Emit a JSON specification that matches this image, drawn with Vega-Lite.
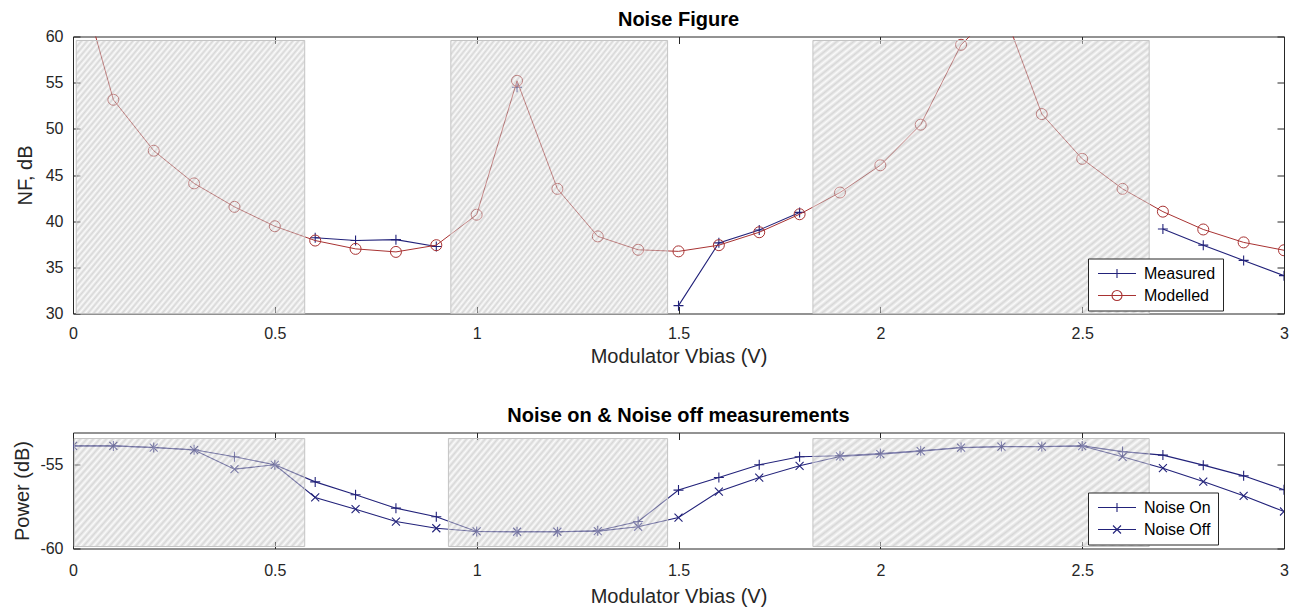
{
  "$schema": "https://vega.github.io/schema/vega-lite/v6.json",
  "background": "white",
  "padding": {"left": 12, "top": 9.5, "right": 10, "bottom": 0},
  "spacing": 37,
  "datasets": {
    "nf": [
      {"x": 0.0, "nf": 68.8, "series": "Modelled", "seg": "m"},
      {"x": 0.1, "nf": 53.15, "series": "Modelled", "seg": "m"},
      {"x": 0.2, "nf": 47.63, "series": "Modelled", "seg": "m"},
      {"x": 0.3, "nf": 44.09, "series": "Modelled", "seg": "m"},
      {"x": 0.4, "nf": 41.55, "series": "Modelled", "seg": "m"},
      {"x": 0.5, "nf": 39.45, "series": "Modelled", "seg": "m"},
      {"x": 0.6, "nf": 37.9, "series": "Modelled", "seg": "m"},
      {"x": 0.7, "nf": 37.0, "series": "Modelled", "seg": "m"},
      {"x": 0.8, "nf": 36.67, "series": "Modelled", "seg": "m"},
      {"x": 0.9, "nf": 37.4, "series": "Modelled", "seg": "m"},
      {"x": 1.0, "nf": 40.7, "series": "Modelled", "seg": "m"},
      {"x": 1.1, "nf": 55.2, "series": "Modelled", "seg": "m"},
      {"x": 1.2, "nf": 43.5, "series": "Modelled", "seg": "m"},
      {"x": 1.3, "nf": 38.35, "series": "Modelled", "seg": "m"},
      {"x": 1.4, "nf": 36.9, "series": "Modelled", "seg": "m"},
      {"x": 1.5, "nf": 36.73, "series": "Modelled", "seg": "m"},
      {"x": 1.6, "nf": 37.4, "series": "Modelled", "seg": "m"},
      {"x": 1.7, "nf": 38.8, "series": "Modelled", "seg": "m"},
      {"x": 1.8, "nf": 40.75, "series": "Modelled", "seg": "m"},
      {"x": 1.9, "nf": 43.1, "series": "Modelled", "seg": "m"},
      {"x": 2.0, "nf": 46.05, "series": "Modelled", "seg": "m"},
      {"x": 2.1, "nf": 50.45, "series": "Modelled", "seg": "m"},
      {"x": 2.2, "nf": 59.1, "series": "Modelled", "seg": "m"},
      {"x": 2.3, "nf": 63.4, "series": "Modelled", "seg": "m"},
      {"x": 2.4, "nf": 51.6, "series": "Modelled", "seg": "m"},
      {"x": 2.5, "nf": 46.75, "series": "Modelled", "seg": "m"},
      {"x": 2.6, "nf": 43.5, "series": "Modelled", "seg": "m"},
      {"x": 2.7, "nf": 41.03, "series": "Modelled", "seg": "m"},
      {"x": 2.8, "nf": 39.1, "series": "Modelled", "seg": "m"},
      {"x": 2.9, "nf": 37.7, "series": "Modelled", "seg": "m"},
      {"x": 3.0, "nf": 36.85, "series": "Modelled", "seg": "m"},
      {"x": 0.6, "nf": 38.2, "series": "Measured", "seg": "a"},
      {"x": 0.7, "nf": 37.9, "series": "Measured", "seg": "a"},
      {"x": 0.8, "nf": 38.0, "series": "Measured", "seg": "a"},
      {"x": 0.9, "nf": 37.25, "series": "Measured", "seg": "a"},
      {"x": 1.1, "nf": 54.5, "series": "Measured", "seg": "b"},
      {"x": 1.5, "nf": 30.85, "series": "Measured", "seg": "c"},
      {"x": 1.6, "nf": 37.65, "series": "Measured", "seg": "c"},
      {"x": 1.7, "nf": 39.05, "series": "Measured", "seg": "c"},
      {"x": 1.8, "nf": 40.95, "series": "Measured", "seg": "c"},
      {"x": 2.7, "nf": 39.15, "series": "Measured", "seg": "d"},
      {"x": 2.8, "nf": 37.4, "series": "Measured", "seg": "d"},
      {"x": 2.9, "nf": 35.75, "series": "Measured", "seg": "d"},
      {"x": 3.0, "nf": 34.1, "series": "Measured", "seg": "d"}
    ],
    "pw": [
      {"x": 0.0, "p": -53.87, "series": "Noise On"},
      {"x": 0.1, "p": -53.87, "series": "Noise On"},
      {"x": 0.2, "p": -53.97, "series": "Noise On"},
      {"x": 0.3, "p": -54.1, "series": "Noise On"},
      {"x": 0.4, "p": -54.52, "series": "Noise On"},
      {"x": 0.5, "p": -55.0, "series": "Noise On"},
      {"x": 0.6, "p": -56.02, "series": "Noise On"},
      {"x": 0.7, "p": -56.79, "series": "Noise On"},
      {"x": 0.8, "p": -57.59, "series": "Noise On"},
      {"x": 0.9, "p": -58.1, "series": "Noise On"},
      {"x": 1.0, "p": -58.98, "series": "Noise On"},
      {"x": 1.1, "p": -59.0, "series": "Noise On"},
      {"x": 1.2, "p": -59.0, "series": "Noise On"},
      {"x": 1.3, "p": -58.94, "series": "Noise On"},
      {"x": 1.4, "p": -58.39, "series": "Noise On"},
      {"x": 1.5, "p": -56.51, "series": "Noise On"},
      {"x": 1.6, "p": -55.76, "series": "Noise On"},
      {"x": 1.7, "p": -55.0, "series": "Noise On"},
      {"x": 1.8, "p": -54.52, "series": "Noise On"},
      {"x": 1.9, "p": -54.46, "series": "Noise On"},
      {"x": 2.0, "p": -54.33, "series": "Noise On"},
      {"x": 2.1, "p": -54.16, "series": "Noise On"},
      {"x": 2.2, "p": -53.97, "series": "Noise On"},
      {"x": 2.3, "p": -53.91, "series": "Noise On"},
      {"x": 2.4, "p": -53.91, "series": "Noise On"},
      {"x": 2.5, "p": -53.87, "series": "Noise On"},
      {"x": 2.6, "p": -54.21, "series": "Noise On"},
      {"x": 2.7, "p": -54.42, "series": "Noise On"},
      {"x": 2.8, "p": -55.02, "series": "Noise On"},
      {"x": 2.9, "p": -55.66, "series": "Noise On"},
      {"x": 3.0, "p": -56.49, "series": "Noise On"},
      {"x": 0.0, "p": -53.87, "series": "Noise Off"},
      {"x": 0.1, "p": -53.87, "series": "Noise Off"},
      {"x": 0.2, "p": -53.97, "series": "Noise Off"},
      {"x": 0.3, "p": -54.12, "series": "Noise Off"},
      {"x": 0.4, "p": -55.26, "series": "Noise Off"},
      {"x": 0.5, "p": -55.0, "series": "Noise Off"},
      {"x": 0.6, "p": -56.95, "series": "Noise Off"},
      {"x": 0.7, "p": -57.65, "series": "Noise Off"},
      {"x": 0.8, "p": -58.39, "series": "Noise Off"},
      {"x": 0.9, "p": -58.79, "series": "Noise Off"},
      {"x": 1.0, "p": -58.98, "series": "Noise Off"},
      {"x": 1.1, "p": -59.0, "series": "Noise Off"},
      {"x": 1.2, "p": -59.0, "series": "Noise Off"},
      {"x": 1.3, "p": -58.96, "series": "Noise Off"},
      {"x": 1.4, "p": -58.7, "series": "Noise Off"},
      {"x": 1.5, "p": -58.15, "series": "Noise Off"},
      {"x": 1.6, "p": -56.6, "series": "Noise Off"},
      {"x": 1.7, "p": -55.76, "series": "Noise Off"},
      {"x": 1.8, "p": -55.06, "series": "Noise Off"},
      {"x": 1.9, "p": -54.5, "series": "Noise Off"},
      {"x": 2.0, "p": -54.36, "series": "Noise Off"},
      {"x": 2.1, "p": -54.18, "series": "Noise Off"},
      {"x": 2.2, "p": -53.98, "series": "Noise Off"},
      {"x": 2.3, "p": -53.92, "series": "Noise Off"},
      {"x": 2.4, "p": -53.92, "series": "Noise Off"},
      {"x": 2.5, "p": -53.88, "series": "Noise Off"},
      {"x": 2.6, "p": -54.52, "series": "Noise Off"},
      {"x": 2.7, "p": -55.2, "series": "Noise Off"},
      {"x": 2.8, "p": -56.0, "series": "Noise Off"},
      {"x": 2.9, "p": -56.85, "series": "Noise Off"},
      {"x": 3.0, "p": -57.79, "series": "Noise Off"}
    ],
    "nfBands": [
      {"x0": 0.008, "x1": 0.574, "lo": 30, "hi": 59.57},
      {"x0": 0.936, "x1": 1.473, "lo": 30, "hi": 59.57},
      {"x0": 1.833, "x1": 2.666, "lo": 30, "hi": 59.57}
    ],
    "pwBands": [
      {"x0": 0.003, "x1": 0.574, "lo": -59.88, "hi": -53.43},
      {"x0": 0.93, "x1": 1.473, "lo": -59.88, "hi": -53.43},
      {"x0": 1.833, "x1": 2.666, "lo": -59.88, "hi": -53.43}
    ]
  },
  "vconcat": [
    {
      "width": 1211,
      "height": 277,
      "title": {"text": "Noise Figure", "offset": -1.5},
      "layer": [
        {
          "data": {"name": "nf"},
          "layer": [
            {
              "transform": [{"filter": {"field": "series", "equal": "Measured"}}],
              "mark": {"type": "line", "color": "#22227a", "strokeWidth": 1.1, "clip": true},
              "encoding": {
                "x": {"field": "x", "type": "quantitative", "scale": {"domain": [0, 3], "nice": false, "zero": false},
                  "axis": {"title": "Modulator Vbias (V)", "values": [0, 0.5, 1, 1.5, 2, 2.5, 3], "labelExpr": "'' + datum.value", "labelFlush": false, "labelPadding": 19, "titlePadding": 5}},
                "y": {"field": "nf", "type": "quantitative", "scale": {"domain": [30, 60], "nice": false, "zero": false},
                  "axis": {"title": "NF, dB", "values": [30, 35, 40, 45, 50, 55, 60], "labelExpr": "'' + datum.value", "labelPadding": 17, "titlePadding": 10}},
                "detail": {"field": "seg", "type": "nominal"}
              }
            },
            {
              "transform": [{"filter": {"field": "series", "equal": "Measured"}}],
              "mark": {"type": "point", "shape": "M-1,0H1M0,-1V1", "size": 100, "filled": false, "color": "#22227a", "strokeWidth": 1.1, "opacity": 1, "clip": true},
              "encoding": {
                "x": {"field": "x", "type": "quantitative", "scale": {"domain": [0, 3], "nice": false, "zero": false}},
                "y": {"field": "nf", "type": "quantitative", "scale": {"domain": [30, 60], "nice": false, "zero": false}}
              }
            },
            {
              "transform": [{"filter": {"field": "series", "equal": "Modelled"}}],
              "mark": {"type": "line", "color": "#a83232", "strokeWidth": 1, "clip": true},
              "encoding": {
                "x": {"field": "x", "type": "quantitative", "scale": {"domain": [0, 3], "nice": false, "zero": false}},
                "y": {"field": "nf", "type": "quantitative", "scale": {"domain": [30, 60], "nice": false, "zero": false}}
              }
            },
            {
              "transform": [{"filter": {"field": "series", "equal": "Modelled"}}],
              "mark": {"type": "point", "shape": "circle", "size": 121, "filled": false, "color": "#a83232", "strokeWidth": 1, "opacity": 1, "clip": true},
              "encoding": {
                "x": {"field": "x", "type": "quantitative", "scale": {"domain": [0, 3], "nice": false, "zero": false}},
                "y": {"field": "nf", "type": "quantitative", "scale": {"domain": [30, 60], "nice": false, "zero": false}}
              }
            },
            {
              "transform": [{"filter": {"field": "x", "lt": -1}}],
              "mark": {"type": "point", "filled": false, "size": 100, "strokeWidth": 1.1, "opacity": 1},
              "encoding": {
                "x": {"field": "x", "type": "quantitative", "scale": {"domain": [0, 3], "nice": false, "zero": false}},
                "y": {"field": "nf", "type": "quantitative", "scale": {"domain": [30, 60], "nice": false, "zero": false}},
                "color": {"field": "series", "type": "nominal", "scale": {"domain": ["Measured", "Modelled"], "range": ["#22227a", "#a83232"]},
                  "legend": {"title": null, "orient": "none", "legendX": 1015, "legendY": 222}},
                "shape": {"field": "series", "type": "nominal", "scale": {"domain": ["Measured", "Modelled"], "range": ["M-1,0H6.6M2.8,-0.9V0.9", "M-1,0H6.6M3.8,0A1,1 0 1,1 1.8,0A1,1 0 1,1 3.8,0"]},
                  "legend": {"title": null, "orient": "none", "legendX": 1015, "legendY": 222}}
              }
            }
          ]
        },
        {
          "data": {"name": "nfBands"},
          "mark": {"type": "rect", "fillOpacity": 0.5, "stroke": "#c4c4c4", "strokeWidth": 1,
            "fill": {"gradient": "linear", "x1": 0, "y1": 0, "x2": 1, "y2": 1, "stops": [
              {"offset": 0, "color": "#b0b0b0"}, {"offset": 0.00625, "color": "#f5f5f5"}, {"offset": 0.0125, "color": "#b0b0b0"}, {"offset": 0.01875, "color": "#f5f5f5"},
              {"offset": 0.025, "color": "#b0b0b0"}, {"offset": 0.03125, "color": "#f5f5f5"}, {"offset": 0.0375, "color": "#b0b0b0"}, {"offset": 0.04375, "color": "#f5f5f5"},
              {"offset": 0.05, "color": "#b0b0b0"}, {"offset": 0.05625, "color": "#f5f5f5"}, {"offset": 0.0625, "color": "#b0b0b0"}, {"offset": 0.06875, "color": "#f5f5f5"},
              {"offset": 0.075, "color": "#b0b0b0"}, {"offset": 0.08125, "color": "#f5f5f5"}, {"offset": 0.0875, "color": "#b0b0b0"}, {"offset": 0.09375, "color": "#f5f5f5"},
              {"offset": 0.1, "color": "#b0b0b0"}, {"offset": 0.10625, "color": "#f5f5f5"}, {"offset": 0.1125, "color": "#b0b0b0"}, {"offset": 0.11875, "color": "#f5f5f5"},
              {"offset": 0.125, "color": "#b0b0b0"}, {"offset": 0.13125, "color": "#f5f5f5"}, {"offset": 0.1375, "color": "#b0b0b0"}, {"offset": 0.14375, "color": "#f5f5f5"},
              {"offset": 0.15, "color": "#b0b0b0"}, {"offset": 0.15625, "color": "#f5f5f5"}, {"offset": 0.1625, "color": "#b0b0b0"}, {"offset": 0.16875, "color": "#f5f5f5"},
              {"offset": 0.175, "color": "#b0b0b0"}, {"offset": 0.18125, "color": "#f5f5f5"}, {"offset": 0.1875, "color": "#b0b0b0"}, {"offset": 0.19375, "color": "#f5f5f5"},
              {"offset": 0.2, "color": "#b0b0b0"}, {"offset": 0.20625, "color": "#f5f5f5"}, {"offset": 0.2125, "color": "#b0b0b0"}, {"offset": 0.21875, "color": "#f5f5f5"},
              {"offset": 0.225, "color": "#b0b0b0"}, {"offset": 0.23125, "color": "#f5f5f5"}, {"offset": 0.2375, "color": "#b0b0b0"}, {"offset": 0.24375, "color": "#f5f5f5"},
              {"offset": 0.25, "color": "#b0b0b0"}, {"offset": 0.25625, "color": "#f5f5f5"}, {"offset": 0.2625, "color": "#b0b0b0"}, {"offset": 0.26875, "color": "#f5f5f5"},
              {"offset": 0.275, "color": "#b0b0b0"}, {"offset": 0.28125, "color": "#f5f5f5"}, {"offset": 0.2875, "color": "#b0b0b0"}, {"offset": 0.29375, "color": "#f5f5f5"},
              {"offset": 0.3, "color": "#b0b0b0"}, {"offset": 0.30625, "color": "#f5f5f5"}, {"offset": 0.3125, "color": "#b0b0b0"}, {"offset": 0.31875, "color": "#f5f5f5"},
              {"offset": 0.325, "color": "#b0b0b0"}, {"offset": 0.33125, "color": "#f5f5f5"}, {"offset": 0.3375, "color": "#b0b0b0"}, {"offset": 0.34375, "color": "#f5f5f5"},
              {"offset": 0.35, "color": "#b0b0b0"}, {"offset": 0.35625, "color": "#f5f5f5"}, {"offset": 0.3625, "color": "#b0b0b0"}, {"offset": 0.36875, "color": "#f5f5f5"},
              {"offset": 0.375, "color": "#b0b0b0"}, {"offset": 0.38125, "color": "#f5f5f5"}, {"offset": 0.3875, "color": "#b0b0b0"}, {"offset": 0.39375, "color": "#f5f5f5"},
              {"offset": 0.4, "color": "#b0b0b0"}, {"offset": 0.40625, "color": "#f5f5f5"}, {"offset": 0.4125, "color": "#b0b0b0"}, {"offset": 0.41875, "color": "#f5f5f5"},
              {"offset": 0.425, "color": "#b0b0b0"}, {"offset": 0.43125, "color": "#f5f5f5"}, {"offset": 0.4375, "color": "#b0b0b0"}, {"offset": 0.44375, "color": "#f5f5f5"},
              {"offset": 0.45, "color": "#b0b0b0"}, {"offset": 0.45625, "color": "#f5f5f5"}, {"offset": 0.4625, "color": "#b0b0b0"}, {"offset": 0.46875, "color": "#f5f5f5"},
              {"offset": 0.475, "color": "#b0b0b0"}, {"offset": 0.48125, "color": "#f5f5f5"}, {"offset": 0.4875, "color": "#b0b0b0"}, {"offset": 0.49375, "color": "#f5f5f5"},
              {"offset": 0.5, "color": "#b0b0b0"}, {"offset": 0.50625, "color": "#f5f5f5"}, {"offset": 0.5125, "color": "#b0b0b0"}, {"offset": 0.51875, "color": "#f5f5f5"},
              {"offset": 0.525, "color": "#b0b0b0"}, {"offset": 0.53125, "color": "#f5f5f5"}, {"offset": 0.5375, "color": "#b0b0b0"}, {"offset": 0.54375, "color": "#f5f5f5"},
              {"offset": 0.55, "color": "#b0b0b0"}, {"offset": 0.55625, "color": "#f5f5f5"}, {"offset": 0.5625, "color": "#b0b0b0"}, {"offset": 0.56875, "color": "#f5f5f5"},
              {"offset": 0.575, "color": "#b0b0b0"}, {"offset": 0.58125, "color": "#f5f5f5"}, {"offset": 0.5875, "color": "#b0b0b0"}, {"offset": 0.59375, "color": "#f5f5f5"},
              {"offset": 0.6, "color": "#b0b0b0"}, {"offset": 0.60625, "color": "#f5f5f5"}, {"offset": 0.6125, "color": "#b0b0b0"}, {"offset": 0.61875, "color": "#f5f5f5"},
              {"offset": 0.625, "color": "#b0b0b0"}, {"offset": 0.63125, "color": "#f5f5f5"}, {"offset": 0.6375, "color": "#b0b0b0"}, {"offset": 0.64375, "color": "#f5f5f5"},
              {"offset": 0.65, "color": "#b0b0b0"}, {"offset": 0.65625, "color": "#f5f5f5"}, {"offset": 0.6625, "color": "#b0b0b0"}, {"offset": 0.66875, "color": "#f5f5f5"},
              {"offset": 0.675, "color": "#b0b0b0"}, {"offset": 0.68125, "color": "#f5f5f5"}, {"offset": 0.6875, "color": "#b0b0b0"}, {"offset": 0.69375, "color": "#f5f5f5"},
              {"offset": 0.7, "color": "#b0b0b0"}, {"offset": 0.70625, "color": "#f5f5f5"}, {"offset": 0.7125, "color": "#b0b0b0"}, {"offset": 0.71875, "color": "#f5f5f5"},
              {"offset": 0.725, "color": "#b0b0b0"}, {"offset": 0.73125, "color": "#f5f5f5"}, {"offset": 0.7375, "color": "#b0b0b0"}, {"offset": 0.74375, "color": "#f5f5f5"},
              {"offset": 0.75, "color": "#b0b0b0"}, {"offset": 0.75625, "color": "#f5f5f5"}, {"offset": 0.7625, "color": "#b0b0b0"}, {"offset": 0.76875, "color": "#f5f5f5"},
              {"offset": 0.775, "color": "#b0b0b0"}, {"offset": 0.78125, "color": "#f5f5f5"}, {"offset": 0.7875, "color": "#b0b0b0"}, {"offset": 0.79375, "color": "#f5f5f5"},
              {"offset": 0.8, "color": "#b0b0b0"}, {"offset": 0.80625, "color": "#f5f5f5"}, {"offset": 0.8125, "color": "#b0b0b0"}, {"offset": 0.81875, "color": "#f5f5f5"},
              {"offset": 0.825, "color": "#b0b0b0"}, {"offset": 0.83125, "color": "#f5f5f5"}, {"offset": 0.8375, "color": "#b0b0b0"}, {"offset": 0.84375, "color": "#f5f5f5"},
              {"offset": 0.85, "color": "#b0b0b0"}, {"offset": 0.85625, "color": "#f5f5f5"}, {"offset": 0.8625, "color": "#b0b0b0"}, {"offset": 0.86875, "color": "#f5f5f5"},
              {"offset": 0.875, "color": "#b0b0b0"}, {"offset": 0.88125, "color": "#f5f5f5"}, {"offset": 0.8875, "color": "#b0b0b0"}, {"offset": 0.89375, "color": "#f5f5f5"},
              {"offset": 0.9, "color": "#b0b0b0"}, {"offset": 0.90625, "color": "#f5f5f5"}, {"offset": 0.9125, "color": "#b0b0b0"}, {"offset": 0.91875, "color": "#f5f5f5"},
              {"offset": 0.925, "color": "#b0b0b0"}, {"offset": 0.93125, "color": "#f5f5f5"}, {"offset": 0.9375, "color": "#b0b0b0"}, {"offset": 0.94375, "color": "#f5f5f5"},
              {"offset": 0.95, "color": "#b0b0b0"}, {"offset": 0.95625, "color": "#f5f5f5"}, {"offset": 0.9625, "color": "#b0b0b0"}, {"offset": 0.96875, "color": "#f5f5f5"},
              {"offset": 0.975, "color": "#b0b0b0"}, {"offset": 0.98125, "color": "#f5f5f5"}, {"offset": 0.9875, "color": "#b0b0b0"}, {"offset": 0.99375, "color": "#f5f5f5"},
              {"offset": 1, "color": "#b0b0b0"}
            ]}},
          "encoding": {
            "x": {"field": "x0", "type": "quantitative", "scale": {"domain": [0, 3], "nice": false, "zero": false},
              "axis": {"orient": "top", "title": null, "labels": false, "values": [0, 0.5, 1, 1.5, 2, 2.5, 3]}},
            "x2": {"field": "x1"},
            "y": {"field": "lo", "type": "quantitative", "scale": {"domain": [30, 60], "nice": false, "zero": false},
              "axis": {"orient": "right", "title": null, "labels": false, "values": [30, 35, 40, 45, 50, 55, 60]}},
            "y2": {"field": "hi"}
          }
        }
      ],
      "resolve": {"axis": {"x": "independent", "y": "independent"}}
    },
    {
      "width": 1211,
      "height": 116,
      "title": {"text": "Noise on & Noise off measurements", "offset": 6.2},
      "layer": [
        {
          "data": {"name": "pw"},
          "layer": [
            {
              "mark": {"type": "line", "color": "#22227a", "strokeWidth": 1.1, "clip": true},
              "encoding": {
                "x": {"field": "x", "type": "quantitative", "scale": {"domain": [0, 3], "nice": false, "zero": false},
                  "axis": {"title": "Modulator Vbias (V)", "values": [0, 0.5, 1, 1.5, 2, 2.5, 3], "labelExpr": "'' + datum.value", "labelFlush": false, "labelPadding": 21, "titlePadding": 8}},
                "y": {"field": "p", "type": "quantitative", "scale": {"domain": [-60, -53.07], "nice": false, "zero": false},
                  "axis": {"title": "Power (dB)", "values": [-60, -55], "labelExpr": "'' + datum.value", "labelPadding": 17, "titlePadding": 7}},
                "detail": {"field": "series", "type": "nominal"}
              }
            },
            {
              "transform": [{"filter": {"field": "series", "equal": "Noise On"}}],
              "mark": {"type": "point", "shape": "M-1,0H1M0,-1V1", "size": 100, "filled": false, "color": "#22227a", "strokeWidth": 1.1, "opacity": 1, "clip": true},
              "encoding": {
                "x": {"field": "x", "type": "quantitative", "scale": {"domain": [0, 3], "nice": false, "zero": false}},
                "y": {"field": "p", "type": "quantitative", "scale": {"domain": [-60, -53.07], "nice": false, "zero": false}}
              }
            },
            {
              "transform": [{"filter": {"field": "series", "equal": "Noise Off"}}],
              "mark": {"type": "point", "shape": "M-1,-1L1,1M-1,1L1,-1", "size": 64, "filled": false, "color": "#22227a", "strokeWidth": 1.1, "opacity": 1, "clip": true},
              "encoding": {
                "x": {"field": "x", "type": "quantitative", "scale": {"domain": [0, 3], "nice": false, "zero": false}},
                "y": {"field": "p", "type": "quantitative", "scale": {"domain": [-60, -53.07], "nice": false, "zero": false}}
              }
            },
            {
              "transform": [{"filter": {"field": "x", "lt": -1}}],
              "mark": {"type": "point", "filled": false, "size": 100, "strokeWidth": 1.1, "opacity": 1},
              "encoding": {
                "x": {"field": "x", "type": "quantitative", "scale": {"domain": [0, 3], "nice": false, "zero": false}},
                "y": {"field": "p", "type": "quantitative", "scale": {"domain": [-60, -53.07], "nice": false, "zero": false}},
                "color": {"field": "series", "type": "nominal", "scale": {"domain": ["Noise On", "Noise Off"], "range": ["#22227a", "#22227a"]},
                  "legend": {"title": null, "orient": "none", "legendX": 1015, "legendY": 60}},
                "shape": {"field": "series", "type": "nominal", "scale": {"domain": ["Noise On", "Noise Off"], "range": ["M-1,0H6.6M2.8,-0.9V0.9", "M-1,0H6.6M2,-0.8L3.6,0.8M2,0.8L3.6,-0.8"]},
                  "legend": {"title": null, "orient": "none", "legendX": 1015, "legendY": 60}}
              }
            }
          ]
        },
        {
          "data": {"name": "pwBands"},
          "mark": {"type": "rect", "fillOpacity": 0.5, "stroke": "#c4c4c4", "strokeWidth": 1,
            "fill": {"gradient": "linear", "x1": 0, "y1": 0, "x2": 1.207, "y2": 0.5, "stops": [
              {"offset": 0, "color": "#b0b0b0"}, {"offset": 0.01, "color": "#f5f5f5"}, {"offset": 0.02, "color": "#b0b0b0"}, {"offset": 0.03, "color": "#f5f5f5"},
              {"offset": 0.04, "color": "#b0b0b0"}, {"offset": 0.05, "color": "#f5f5f5"}, {"offset": 0.06, "color": "#b0b0b0"}, {"offset": 0.07, "color": "#f5f5f5"},
              {"offset": 0.08, "color": "#b0b0b0"}, {"offset": 0.09, "color": "#f5f5f5"}, {"offset": 0.1, "color": "#b0b0b0"}, {"offset": 0.11, "color": "#f5f5f5"},
              {"offset": 0.12, "color": "#b0b0b0"}, {"offset": 0.13, "color": "#f5f5f5"}, {"offset": 0.14, "color": "#b0b0b0"}, {"offset": 0.15, "color": "#f5f5f5"},
              {"offset": 0.16, "color": "#b0b0b0"}, {"offset": 0.17, "color": "#f5f5f5"}, {"offset": 0.18, "color": "#b0b0b0"}, {"offset": 0.19, "color": "#f5f5f5"},
              {"offset": 0.2, "color": "#b0b0b0"}, {"offset": 0.21, "color": "#f5f5f5"}, {"offset": 0.22, "color": "#b0b0b0"}, {"offset": 0.23, "color": "#f5f5f5"},
              {"offset": 0.24, "color": "#b0b0b0"}, {"offset": 0.25, "color": "#f5f5f5"}, {"offset": 0.26, "color": "#b0b0b0"}, {"offset": 0.27, "color": "#f5f5f5"},
              {"offset": 0.28, "color": "#b0b0b0"}, {"offset": 0.29, "color": "#f5f5f5"}, {"offset": 0.3, "color": "#b0b0b0"}, {"offset": 0.31, "color": "#f5f5f5"},
              {"offset": 0.32, "color": "#b0b0b0"}, {"offset": 0.33, "color": "#f5f5f5"}, {"offset": 0.34, "color": "#b0b0b0"}, {"offset": 0.35, "color": "#f5f5f5"},
              {"offset": 0.36, "color": "#b0b0b0"}, {"offset": 0.37, "color": "#f5f5f5"}, {"offset": 0.38, "color": "#b0b0b0"}, {"offset": 0.39, "color": "#f5f5f5"},
              {"offset": 0.4, "color": "#b0b0b0"}, {"offset": 0.41, "color": "#f5f5f5"}, {"offset": 0.42, "color": "#b0b0b0"}, {"offset": 0.43, "color": "#f5f5f5"},
              {"offset": 0.44, "color": "#b0b0b0"}, {"offset": 0.45, "color": "#f5f5f5"}, {"offset": 0.46, "color": "#b0b0b0"}, {"offset": 0.47, "color": "#f5f5f5"},
              {"offset": 0.48, "color": "#b0b0b0"}, {"offset": 0.49, "color": "#f5f5f5"}, {"offset": 0.5, "color": "#b0b0b0"}, {"offset": 0.51, "color": "#f5f5f5"},
              {"offset": 0.52, "color": "#b0b0b0"}, {"offset": 0.53, "color": "#f5f5f5"}, {"offset": 0.54, "color": "#b0b0b0"}, {"offset": 0.55, "color": "#f5f5f5"},
              {"offset": 0.56, "color": "#b0b0b0"}, {"offset": 0.57, "color": "#f5f5f5"}, {"offset": 0.58, "color": "#b0b0b0"}, {"offset": 0.59, "color": "#f5f5f5"},
              {"offset": 0.6, "color": "#b0b0b0"}, {"offset": 0.61, "color": "#f5f5f5"}, {"offset": 0.62, "color": "#b0b0b0"}, {"offset": 0.63, "color": "#f5f5f5"},
              {"offset": 0.64, "color": "#b0b0b0"}, {"offset": 0.65, "color": "#f5f5f5"}, {"offset": 0.66, "color": "#b0b0b0"}, {"offset": 0.67, "color": "#f5f5f5"},
              {"offset": 0.68, "color": "#b0b0b0"}, {"offset": 0.69, "color": "#f5f5f5"}, {"offset": 0.7, "color": "#b0b0b0"}, {"offset": 0.71, "color": "#f5f5f5"},
              {"offset": 0.72, "color": "#b0b0b0"}, {"offset": 0.73, "color": "#f5f5f5"}, {"offset": 0.74, "color": "#b0b0b0"}, {"offset": 0.75, "color": "#f5f5f5"},
              {"offset": 0.76, "color": "#b0b0b0"}, {"offset": 0.77, "color": "#f5f5f5"}, {"offset": 0.78, "color": "#b0b0b0"}, {"offset": 0.79, "color": "#f5f5f5"},
              {"offset": 0.8, "color": "#b0b0b0"}, {"offset": 0.81, "color": "#f5f5f5"}, {"offset": 0.82, "color": "#b0b0b0"}, {"offset": 0.83, "color": "#f5f5f5"},
              {"offset": 0.84, "color": "#b0b0b0"}, {"offset": 0.85, "color": "#f5f5f5"}, {"offset": 0.86, "color": "#b0b0b0"}, {"offset": 0.87, "color": "#f5f5f5"},
              {"offset": 0.88, "color": "#b0b0b0"}, {"offset": 0.89, "color": "#f5f5f5"}, {"offset": 0.9, "color": "#b0b0b0"}, {"offset": 0.91, "color": "#f5f5f5"},
              {"offset": 0.92, "color": "#b0b0b0"}, {"offset": 0.93, "color": "#f5f5f5"}, {"offset": 0.94, "color": "#b0b0b0"}, {"offset": 0.95, "color": "#f5f5f5"},
              {"offset": 0.96, "color": "#b0b0b0"}, {"offset": 0.97, "color": "#f5f5f5"}, {"offset": 0.98, "color": "#b0b0b0"}, {"offset": 0.99, "color": "#f5f5f5"},
              {"offset": 1, "color": "#b0b0b0"}
            ]}},
          "encoding": {
            "x": {"field": "x0", "type": "quantitative", "scale": {"domain": [0, 3], "nice": false, "zero": false},
              "axis": {"orient": "top", "title": null, "labels": false, "values": [0, 0.5, 1, 1.5, 2, 2.5, 3]}},
            "x2": {"field": "x1"},
            "y": {"field": "lo", "type": "quantitative", "scale": {"domain": [-60, -53.07], "nice": false, "zero": false},
              "axis": {"orient": "right", "title": null, "labels": false, "values": [-60, -55]}},
            "y2": {"field": "hi"}
          }
        }
      ],
      "resolve": {"axis": {"x": "independent", "y": "independent"}}
    }
  ],
  "resolve": {"scale": {"x": "independent", "y": "independent", "color": "independent", "shape": "independent"}},
  "config": {
    "font": "Liberation Sans",
    "view": {"stroke": "#262626", "strokeWidth": 1},
    "axis": {
      "labelFont": "Liberation Sans", "labelFontSize": 16, "labelColor": "#262626",
      "titleFont": "Liberation Sans", "titleFontSize": 20, "titleFontWeight": "normal", "titleColor": "#262626",
      "grid": false, "domain": false, "tickColor": "#262626", "tickSize": -7, "tickWidth": 1
    },
    "legend": {
      "labelFont": "Liberation Sans", "labelFontSize": 16, "labelColor": "#000000",
      "strokeColor": "#262626", "fillColor": "white", "padding": 7, "cornerRadius": 0,
      "symbolSize": 100, "symbolStrokeWidth": 1.1, "labelOffset": 33, "rowPadding": 6
    },
    "title": {"font": "Liberation Sans", "fontSize": 20, "fontWeight": "bold", "color": "#000000", "anchor": "middle"}
  }
}
